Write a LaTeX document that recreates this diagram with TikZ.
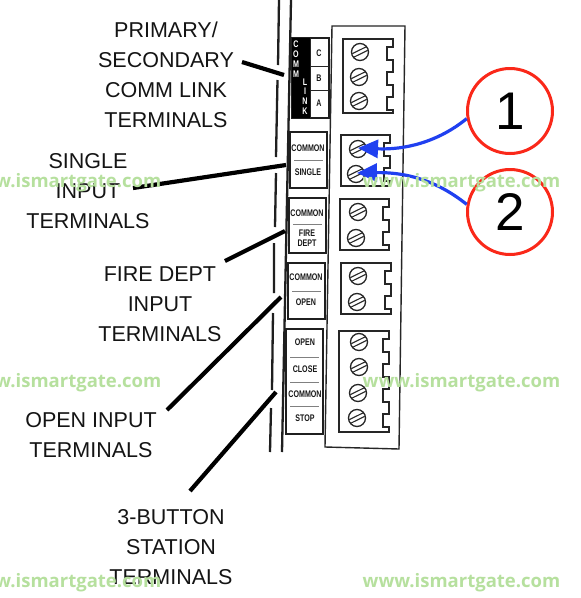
\documentclass[tikz,border=0pt]{standalone}
\usepackage{fontspec}
\usetikzlibrary{arrows.meta}
\setmainfont{Liberation Sans}
\newfontfamily\panelfont[FakeStretch=0.74]{Liberation Sans}
\newfontfamily\wmfont{Open Sans}
\definecolor{wmgreen}{RGB}{182,224,158}
\definecolor{arrowblue}{RGB}{32,64,240}
\definecolor{ringred}{RGB}{250,40,25}
\tikzset{
  biglabel/.style={font=\fontsize{21.5}{30}\selectfont,align=center,text=black!92,inner sep=0pt},
  leader/.style={line width=4.2pt,black},
  wall/.style={line width=2.3pt,black!88},
  panelbox/.style={draw=black!88,line width=1.5pt,fill=white},
  paneltext/.style={font=\panelfont\bfseries\fontsize{9.6}{10}\selectfont,text=black!90,inner sep=0pt},
  panelrule/.style={draw=black!50,line width=.8pt},
  commwhite/.style={font=\panelfont\bfseries\fontsize{9.6}{10}\selectfont,text=white,inner sep=0pt},
  blockline/.style={draw=black!85,line width=1.4pt,line join=miter},
  watermark/.style={font=\wmfont\bfseries\fontsize{18.5}{20}\selectfont,text=wmgreen,inner sep=0pt},
  ring/.style={circle,draw=ringred,line width=3pt,minimum size=85pt,inner sep=0pt,fill=white,font=\fontsize{53}{54}\selectfont,text=black},
  bluearrow/.style={draw=arrowblue,line width=3.2pt,-{Triangle[length=20pt,width=18pt]}},
  screw/.pic={
    \draw[line width=1.3pt,black!85,fill=white] (0,0) circle[radius=8.5];
    \draw[line width=1.1pt,black!85] (-7.6,1.6) -- (6.6,-5.4) (-6.6,5.4) -- (7.6,-1.6);
  }
}
% \blockbody{left}{top}{right}{bottom}{number of recesses}
\newcommand{\blockbody}[5]{%
  \draw[blockline] (#1,#2) -- (#3,#2)
  \foreach \k in {1,...,#5}{
    -- (#3,{#2+8+25*(\k-1)}) -- ({#3-6},{#2+8+25*(\k-1)})
    -- ({#3-6},{#2+21+25*(\k-1)}) -- (#3,{#2+21+25*(\k-1)})
  }
  -- (#3,#4) -- (#1,#4) -- cycle;%
}
\begin{document}
\begin{tikzpicture}[x=1pt,y=-1pt]
\useasboundingbox (0,0) rectangle (581,598);
\fill[white] (0,0) rectangle (581,598);

% walls
\draw[wall] (279,0) -- (278,65) (277.5,80) -- (276,157) (276,173) -- (275,227)
  (274,243) -- (274,293) (273,313) -- (272,390) (271,408) -- (270,452);
\draw[wall] (291,0) -- (282,452);

% housing
\draw[blockline] (332,26) -- (405,26) -- (399,449) -- (325,447) -- cycle;

% terminal blocks
\blockbody{343}{39}{393}{113}{3}
\blockbody{341}{135}{390}{186}{2}
\blockbody{340}{199}{389}{250}{2}
\blockbody{341}{263}{391}{314}{2}
\blockbody{339}{331}{389}{432}{4}
\foreach \p in {(360,52),(359,77),(359,101),(358,149),(356,174),(358,212),(356,238),
                (358,276),(357,302),(359,342),(359,367),(358,393),(357,418)}
  \pic at \p {screw};

% COMM LINK panel
\draw[panelbox] (292,38) rectangle (329,118);
\fill[black] (292,38) rectangle (310,118);
\draw[black!85,line width=.9pt] (310,66) -- (329,66) (310,90) -- (329,90) (310,38) -- (310,118);
\node[commwhite] (cC) at (296,44) {C};
\node[commwhite] (cO) at (296,54) {O};
\node[commwhite] (cM) at (296,64) {M};
\node[commwhite] (cMb) at (296,74) {M};
\node[commwhite] (cL) at (305,82) {L};
\node[commwhite] (cI) at (305,91) {I};
\node[commwhite] (cN) at (305,101) {N};
\node[commwhite] (cK) at (305,111) {K};
\node[paneltext] (tC) at (319,53) {C};
\node[paneltext] (tB) at (319,78) {B};
\node[paneltext] (tA) at (319,103) {A};

% SINGLE panel
\draw[panelbox] (290,132) rectangle (327,188);
\node[paneltext] (s1) at (308,148) {COMMON};
\draw[panelrule] (294,160) -- (323,160);
\node[paneltext] (s2) at (308,172) {SINGLE};

% FIRE DEPT panel
\draw[panelbox] (289,198) rectangle (326,253);
\node[paneltext] (f1) at (307,213) {COMMON};
\draw[panelrule] (293,224) -- (322,224);
\node[paneltext] (f2) at (307,233) {FIRE};
\node[paneltext] (f3) at (307,243) {DEPT};

% OPEN panel
\draw[panelbox] (288,263) rectangle (325,319);
\node[paneltext] (o1) at (306,277) {COMMON};
\draw[panelrule] (292,291) -- (321,291);
\node[paneltext] (o2) at (306,302) {OPEN};

% 3-button panel
\draw[panelbox] (286,329) rectangle (323,434);
\node[paneltext] (b1) at (305,342) {OPEN};
\draw[panelrule] (290,357) -- (319,357);
\node[paneltext] (b2) at (305,369) {CLOSE};
\draw[panelrule] (290,382) -- (319,382);
\node[paneltext] (b3) at (305,394) {COMMON};
\draw[panelrule] (290,406) -- (319,406);
\node[paneltext] (b4) at (305,418) {STOP};

% big labels
\node[biglabel] (lcomm) at (166,74.5) {PRIMARY/\\SECONDARY\\COMM LINK\\TERMINALS};
\node[biglabel] (lsingle) at (88,191) {SINGLE\\INPUT\\TERMINALS};
\node[biglabel] (lfire) at (160,304) {FIRE DEPT\\INPUT\\TERMINALS};
\node[biglabel] (lopen) at (91,435) {OPEN INPUT\\TERMINALS};
\node[biglabel] (lbutton) at (171,547) {3-BUTTON\\STATION\\TERMINALS};

% leaders
\coordinate (a1) at (242,62);  \coordinate (a2) at (284,75);
\coordinate (b1x) at (133,188); \coordinate (b2x) at (286,165);
\coordinate (c1) at (225,261); \coordinate (c2) at (285,231);
\coordinate (d1) at (167,410); \coordinate (d2) at (281,297);
\coordinate (e1) at (190,491); \coordinate (e2) at (276,392);
\draw[leader] (a1) -- (a2);
\draw[leader] (b1x) -- (b2x);
\draw[leader] (c1) -- (c2);
\draw[leader] (d1) -- (d2);
\draw[leader] (e1) -- (e2);

% callouts
\node[ring] (one) at (510,111) {1};
\node[ring] (two) at (510,212) {2};
\coordinate (t1) at (358,148);
\coordinate (t2) at (357,173);
\draw[bluearrow] (one.190) .. controls (438,142) and (405,150) .. (t1);
\draw[bluearrow] (two.170) .. controls (440,183) and (410,172) .. (t2);

% watermarks
\foreach \n/\x/\y in {wa/62.5/183,wb/461.5/183,wc/62.5/383,wd/461.5/383,we/62.5/583,wf/461.5/583}
  \node[watermark] (\n) at (\x,\y) {www.ismartgate.com};
\end{tikzpicture}
\end{document}
